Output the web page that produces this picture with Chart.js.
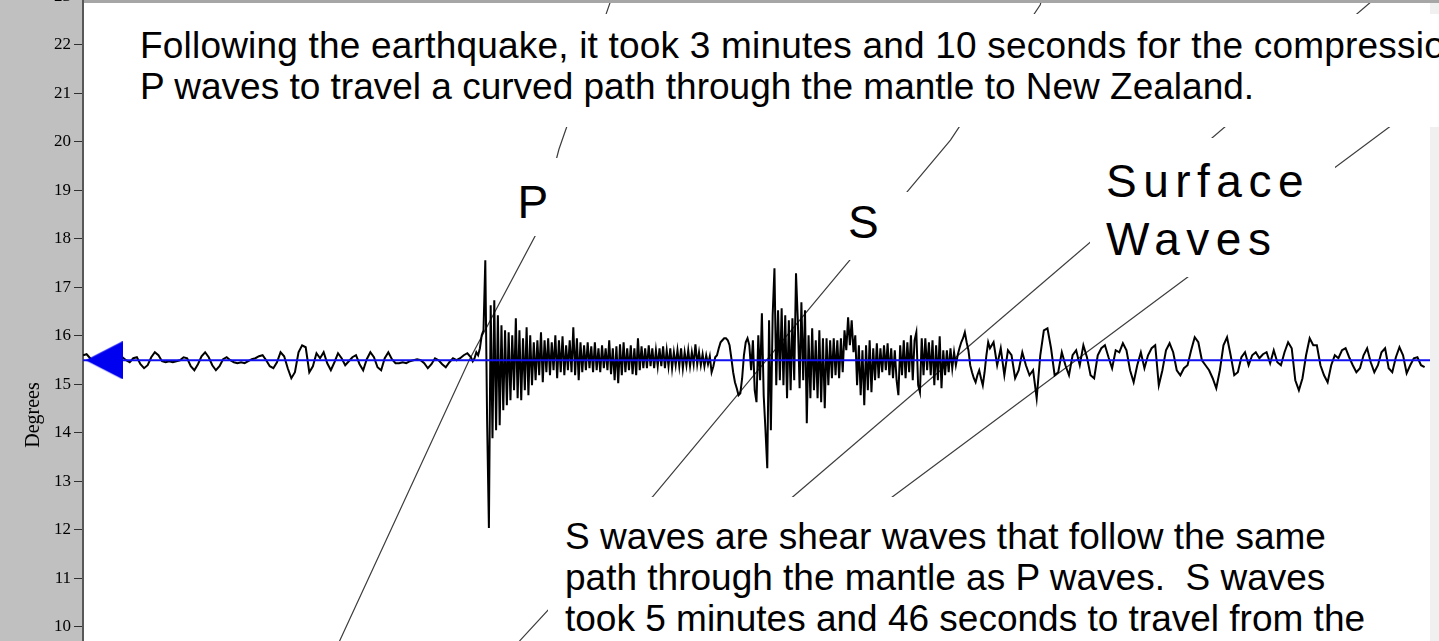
<!DOCTYPE html>
<html>
<head>
<meta charset="utf-8">
<script src="https://cdn.jsdelivr.net/npm/chart.js@4.4.1/dist/chart.umd.min.js"></script>
<style>
  html, body { margin: 0; padding: 0; }
  body {
    width: 1439px; height: 641px; overflow: hidden; position: relative;
    background: #fff; font-family: "Liberation Sans", Arial, sans-serif;
  }
  #seis { position: absolute; left: 0; top: -30px; }
  .frame { position: absolute; left: 84px; top: 0; width: 1355px; height: 3px; background: #a6a6a6; }
  .note, .tag {
    position: absolute; box-sizing: border-box; background: #fff; color: #000;
    white-space: nowrap;
  }
  .note { font-size: 37px; line-height: 41px; }
  .tag { font-size: 46px; line-height: 46px; }
</style>
</head>
<body>
<canvas id="seis" width="1439" height="890"></canvas>
<div class="frame"></div>

<div class="note" style="left:125px; top:14px; width:1330px; height:113px; padding:11px 0 0 15px;"><span style="letter-spacing:0.2px">Following the earthquake, it took 3 minutes and 10 seconds for the compressional</span><br>P waves to travel a curved path through the mantle to New Zealand.</div>

<div class="note" style="left:548px; top:497px; width:882px; height:150px; padding:19px 0 0 17px;">S waves are shear waves that follow the same<br>path through the mantle as P waves.&nbsp; S waves<br>took 5 minutes and 46 seconds to travel from the</div>

<div class="tag" style="left:508px; top:158px; width:55px; height:78px; padding:21px 0 0 9.5px;">P</div>
<div class="tag" style="left:838px; top:192px; width:72px; height:68px; padding:7px 0 0 10px;">S</div>
<div class="tag" style="left:1090px; top:138px; width:245px; height:139px; padding:14px 0 0 16px; line-height:58px; letter-spacing:6.5px;">Surface<br>Waves</div>

<script>
// Station distance (degrees) where the seismogram is plotted
const stationDeg = 15.5;
const traceGainDeg = 0.0206;   // degrees of display per count

// Quiet record before the P arrival: one sample every 2 s from -25 s
const preEventStartSec = -25;
const preEventStepSec = 2;
const preEventCounts = [
  5, 6, 2, -2, -3, 0, 3, 1, -2, -1,
  2, 3, 0, -2, 2, 3, -4, -8, -5, 3,
  8, 5, -1, -2, -1, -2, -1, 0, 3, 2,
  -6, -10, -4, 4, 8, 3, -5, -10, -6, 1,
  3, 0, -2, -3, -2, -3, -1, 1, 2, 4,
  5, 0, -6, -8, -2, 8, 4, -8, -18, -12,
  8, 15, 13, -12, -6, 7, 2, 8, -3, -10,
  -2, 7, 2, -5, -1, 3, 5, -4, -10, 1,
  8, 3, -7, -10, 2, 8, 1, -3, -3, -2,
  -3, -1, 0, 1, 0, -3, -8, -4, 2, 0,
  -4, -7, -2, 2, 0, 2, 5, 7
];

// Body waves (P, coda, S): one sample every second from 191 s
const bodyStartSec = 191;
const bodyStepSec = 1;
const bodyWaveCounts = [
  3, -1, 2, 8, 5, 12, 25, 30, 100,
  -60, -168, 55, -78, 60, -70, 45, -65, 35, -50,
  30, -45, 28, -40, 25, -30, 42, -38, 30, -40,
  22, -30, 33, -35, 25, -25, 18, -20, 20, -15,
  28, -22, 20, -12, 22, -15, 18, -10, 25, -18,
  20, -12, 24, -15, 15, -10, 20, -12, 33, -15,
  22, -20, 18, -12, 15, -10, 18, -8, 14, -12,
  18, -10, 12, -12, 15, -8, 12, -10, 20, -14,
  12, -20, 14, -23, 16, -15, 18, -12, 12, -10,
  15, -14, 12, -15, 22, -10, 14, -8, 12, -8,
  15, -6, 12, -8, 10, -6, 12, -6, 14, -8,
  10, -6, 12, -8, 8, -5, 10, -6, 12, -8,
  8, -5, 10, -6, 8, -4, 16, -4, 8, -5,
  6, -6, 5, -4, 4, -12, -6, 3, 5, 12,
  18, 20, 22, 22, 20, 15, 2, -12, -22, -28,
  -35, -33, -18, 5, 18, 22, 15, -10, 20, -30,
  -42, 25, -20, 47, -35, -70, -108, 40, -70, 45,
  92, -25, 50, -20, 52, -25, 45, -38, 40, -30,
  42, -20, 87, 40, -28, 58, -20, 50, -63, 25,
  -38, 32, -30, 20, -38, 30, -42, 22, -48, 22,
  -25, 20, -18, 22, -15, 20, -18, 22, -12, 30,
  10, 43, 15, 40, 8, 25, -25, 15, -35, 10,
  -45, 15, -30, 20, -32, 12, -20, 17, -18, 12,
  -12, 15, -10, 17, -15, 12, -18, 10, -20, -35,
  15, -15, 20, -18, 18, -12, 25, -20, 20, 28,
  -25, -32, 22, -15, 22, -10, 18, -15, 20, -25,
  15, -20, 24, -28, 10, -15, 10, -12, 12, -8,
  8, -5, 5, 12, 18, 22, 28, 18, 10, -5,
  -12, -18, -22, -15, -10, -18, -25, -12, 5, 18,
  12
];

// Surface waves to the end of the record: one sample every 2 s from 482 s
const surfaceStartSec = 482;
const surfaceStepSec = 2;
const surfaceWaveCounts = [
  18, -5, 12, -15, 10, 5, -18, -10, 8, -5,
  -15, -10, -38, 5, 30, 32, 12, -15, -12, 8,
  -5, -15, 5, 10, -5, 15, 3, -15, -18, 5,
  12, 15, 3, -8, 10, 8, 17, 10, -10, -22,
  -5, 8, -8, 5, 12, 15, -25, -10, 10, 17,
  8, -10, -15, -8, -5, 10, 23, 18, 0, -5,
  -10, -18, -28, -10, 15, 23, 5, -15, -12, 3,
  8, -5, 5, 8, 2, 6, 8, -3, 10, -2,
  -5, 8, 18, 12, -20, -30, -18, 5, 22, 15,
  15, -5, -15, -22, -5, 5, 2, 10, 12, 3,
  -5, -12, -8, 5, 12, -2, -12, -5, 8, 12,
  -8, -12, 3, 13, 5, -13, -5, 2, 3, -5,
  -7
];

// Travel-time curves: arrival time (s) against distance (degrees)
const pWaveSec = [109, 190, 228, 240, 269, 274];
const pWaveDeg = [9.0, 15.5, 18.15, 19.85, 22.93, 23.6];
const sWaveSec = [199, 218, 292, 396, 458, 508, 513];
const sWaveDeg = [9.0, 9.71, 12.68, 17.3, 20.04, 22.83, 23.55];
const loveSec = [254, 713];
const loveDeg = [9.0, 23.55];
const rayleighSec = [292, 820];
const rayleighDeg = [9.0, 23.55];

// Distance marker handle at the left end of the trace
const markerSec = -13.3;

// Time window shown and distance range of the panel
const timeMinSec = -25;
const timeMaxSec = 725;
const degMin = 5.196;
const degMax = 23.546;

function pairs(xs, ys) {
  return xs.map((x, i) => ({ x: x, y: ys[i] }));
}

function section(startSec, stepSec, counts) {
  return counts.map((c, i) => ({ x: startSec + i * stepSec, y: stationDeg + c * traceGainDeg }));
}

const traceData = [].concat(
  section(preEventStartSec, preEventStepSec, preEventCounts),
  section(bodyStartSec, bodyStepSec, bodyWaveCounts),
  section(surfaceStartSec, surfaceStepSec, surfaceWaveCounts)
);

// Left-pointing marker glyph
const marker = document.createElement('canvas');
marker.width = 37; marker.height = 38;
(function () {
  const m = marker.getContext('2d');
  m.fillStyle = '#0000f0';
  m.beginPath();
  m.moveTo(0, 19);
  m.lineTo(37, 0);
  m.lineTo(37, 38);
  m.closePath();
  m.fill();
})();

const panels = {
  id: 'panels',
  beforeDraw(chart) {
    const { ctx, chartArea: a, width, height } = chart;
    ctx.save();
    ctx.fillStyle = '#c0c0c0';
    ctx.fillRect(0, 0, a.left, height);
    ctx.fillStyle = '#ffffff';
    ctx.fillRect(a.left, 0, a.right - a.left, height);
    ctx.fillStyle = '#f0f0f0';
    ctx.fillRect(a.right, 0, width - a.right, height);
    ctx.restore();
  }
};

const curveStyle = { borderColor: '#3c3c3c', borderWidth: 1.2, pointRadius: 0, tension: 0, fill: false };

new Chart(document.getElementById('seis'), {
  type: 'line',
  data: {
    datasets: [
      {
        label: 'marker',
        data: [{ x: markerSec, y: stationDeg }],
        showLine: false, pointStyle: marker, pointRadius: 19
      },
      {
        label: 'station',
        data: [{ x: timeMinSec, y: stationDeg }, { x: timeMaxSec, y: stationDeg }],
        borderColor: '#1010f0', borderWidth: 2, pointRadius: 0
      },
      {
        label: 'seismogram',
        data: traceData,
        borderColor: '#000000', borderWidth: 2, pointRadius: 0, tension: 0
      },
      Object.assign({ label: 'P', data: pairs(pWaveSec, pWaveDeg) }, curveStyle),
      Object.assign({ label: 'S', data: pairs(sWaveSec, sWaveDeg) }, curveStyle),
      Object.assign({ label: 'Love', data: pairs(loveSec, loveDeg) }, curveStyle),
      Object.assign({ label: 'Rayleigh', data: pairs(rayleighSec, rayleighDeg) }, curveStyle)
    ]
  },
  options: {
    responsive: false,
    animation: false,
    devicePixelRatio: 1,
    events: [],
    layout: { autoPadding: false, padding: { left: 0, right: 9, top: 0, bottom: 0 } },
    plugins: { legend: { display: false }, tooltip: { enabled: false } },
    scales: {
      x: { type: 'linear', min: timeMinSec, max: timeMaxSec, display: false },
      y: {
        type: 'linear', position: 'left', min: degMin, max: degMax,
        afterFit(scale) {
          scale.width = 83;
          scale.paddingTop = 0;
          scale.paddingBottom = 0;
        },
        ticks: {
          stepSize: 1, includeBounds: false, padding: 3, color: '#000',
          font: { family: '"Liberation Serif", "Times New Roman", serif', size: 17 },
          callback: v => (Number.isInteger(v) ? String(v) : '')
        },
        grid: { drawOnChartArea: false, tickLength: 9, color: '#303030', lineWidth: 1 },
        border: { display: true, color: '#585858', width: 2 },
        title: {
          display: true, text: 'Degrees', color: '#000',
          font: { family: '"Liberation Serif", "Times New Roman", serif', size: 20 },
          padding: { top: 22, bottom: 0 }
        }
      }
    }
  },
  plugins: [panels]
});
</script>
</body>
</html>
